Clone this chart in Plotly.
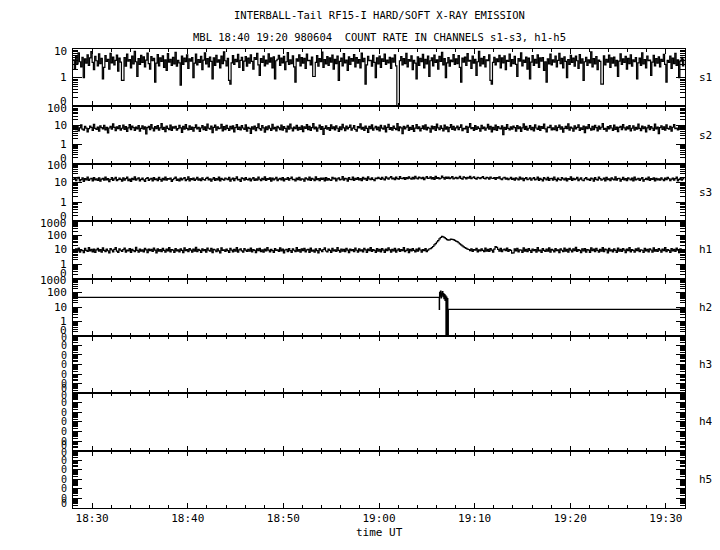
import pandas as pd
import plotly.graph_objects as go
from plotly.subplots import make_subplots

DATE = "1998-06-04"
X_START = "18:28:00"
X_END = "19:32:00"
SAMPLE_SEC = 8

# count rates, one sample every 8 s from 18:28:00
s1 = [4.2,2.1,5.8,3.0,7.4,3.6,2.4,5.1,1.0,4.5,3.2,6.3,2.7,4.9,8.1,3.4,1.9,5.5,3.9,2.6,
      6.8,3.1,4.7,0.9,2.3,5.9,3.7,4.4,2.0,7.0,3.3,5.2,2.8,4.0,6.1,1.7,4.8,3.5,0.8,0.8,
      5.0,2.5,6.6,3.8,4.3,2.2,5.7,3.0,8.3,3.6,1.1,4.6,2.9,6.0,3.4,5.3,2.4,4.1,7.2,3.1,
      2.0,5.4,3.9,4.7,0.7,3.2,6.4,2.6,4.9,3.7,5.8,2.3,4.2,1.8,6.9,3.5,4.4,2.7,5.1,3.0,
      7.7,2.5,4.0,3.3,0.55,5.6,2.9,4.8,3.6,6.2,2.1,4.5,3.8,5.0,1.0,3.2,6.7,2.8,4.3,3.4,
      5.5,1.9,4.1,7.3,3.0,4.6,2.4,5.2,3.7,0.9,4.9,2.7,6.0,3.5,4.2,2.2,5.6,3.1,8.0,3.9,
      2.6,4.7,0.8,0.6,3.3,5.9,2.9,4.4,3.6,6.5,2.3,4.0,5.1,1.8,3.8,5.4,2.5,4.8,3.2,6.2,
      3.7,2.0,5.0,4.3,7.1,2.8,1.2,4.6,3.4,5.7,2.6,4.1,3.0,6.8,3.5,4.9,2.2,5.3,0.9,3.9,
      4.4,6.0,2.7,4.8,3.3,5.5,1.9,3.6,7.5,2.9,4.2,3.1,5.8,2.4,0.7,4.5,3.8,6.3,2.6,5.0,
      3.2,4.7,2.1,6.6,3.9,4.0,2.8,5.2,1.1,1.1,3.4,5.9,2.5,4.6,3.6,7.8,2.3,4.3,3.0,5.4,
      2.7,4.9,3.5,6.1,2.0,4.4,3.1,5.6,0.8,3.7,4.8,2.6,6.9,3.3,4.1,1.8,5.3,2.9,4.6,3.8,
      6.4,2.4,5.0,3.2,4.3,2.2,7.2,3.6,4.7,0.6,2.8,5.5,3.9,4.0,2.5,6.0,3.4,1.0,4.9,3.0,
      5.7,2.3,4.5,3.7,6.7,2.9,4.1,3.3,5.1,2.1,4.8,3.5,6.2,2.6,0.05,0.05,3.9,5.4,2.8,4.6,
      3.1,7.0,2.4,4.3,3.8,5.8,1.9,4.0,3.2,0.9,5.3,2.7,4.7,3.6,6.5,2.2,4.4,3.0,5.6,1.1,
      3.9,4.9,2.6,6.1,3.4,4.2,2.0,5.5,3.7,7.6,2.8,4.6,1.0,3.3,5.0,2.5,4.1,3.6,6.4,2.9,
      4.5,3.1,5.9,2.3,0.7,4.8,3.5,5.2,2.7,6.9,3.8,4.0,2.1,5.7,3.2,4.4,1.2,3.6,8.2,2.6,
      4.7,3.0,5.4,2.4,4.2,3.9,6.3,0.8,0.6,3.4,5.1,2.8,4.5,3.6,6.0,2.2,4.9,3.3,5.8,1.9,
      4.0,3.7,6.7,2.5,4.3,3.1,5.5,2.9,1.1,4.6,3.8,7.3,2.6,4.1,3.4,5.2,2.0,4.8,0.9,3.5,
      5.9,2.7,4.4,3.2,6.2,2.3,4.9,3.8,5.0,1.8,3.6,0.7,4.5,3.0,6.6,2.8,4.2,3.5,5.7,2.4,
      4.0,7.1,3.1,4.7,2.2,5.3,3.7,1.0,4.3,2.9,6.0,3.4,4.8,2.5,5.6,3.9,2.1,6.4,3.2,4.5,
      0.8,3.6,5.1,2.7,4.2,3.3,7.9,2.4,4.6,3.0,5.4,1.9,4.1,3.7,0.6,0.6,5.8,2.8,4.4,3.5,
      6.1,2.3,4.9,3.2,5.2,2.6,4.0,1.1,3.8,6.8,2.9,4.5,3.4,5.5,2.0,4.7,3.1,6.3,2.5,4.2,
      3.6,5.0,0.9,3.3,4.8,2.7,7.4,3.0,4.3,2.2,5.7,3.9,4.1,1.2,3.5,6.0,2.6,4.6,3.2,5.3,
      2.4,4.4,3.7,6.5,2.9,0.7,4.0,3.4,5.6,2.1,4.8,3.1,7.0,2.7,4.2,1.0,3.8,5.1,2.6,4.7]

s2 = [7.1,8.4,6.0,9.7,5.3,7.6,10.8,6.4,5.8,8.9,7.3,4.6,6.9,9.2,8.0,5.6,11.5,7.0,6.2,8.3,
      5.1,9.5,7.7,6.6,10.3,5.9,8.1,4.1,7.4,9.0,6.5,12.1,7.9,5.4,8.6,6.8,9.9,5.7,7.2,10.6,
      6.3,8.8,4.9,7.5,11.2,6.1,9.3,7.8,5.5,8.2,6.7,10.0,5.0,7.1,9.6,6.4,8.5,3.6,7.7,9.1,
      6.0,11.0,7.3,5.2,8.7,6.9,9.8,5.8,7.5,12.4,6.3,8.0,4.8,9.4,7.0,6.1,10.5,5.5,8.4,7.2,
      9.0,5.7,6.8,10.2,7.6,4.4,8.9,6.5,11.3,7.1,5.9,9.6,6.2,8.3,5.1,7.8,10.9,6.6,8.1,4.9,
      7.4,9.9,6.0,8.6,5.6,12.0,7.2,6.4,9.2,4.2,7.9,10.4,5.8,8.5,6.9,7.3,11.6,5.3,8.8,6.1,
      10.1,7.0,5.5,8.9,6.6,9.5,4.7,7.7,11.1,6.2,8.2,5.9,9.8,7.4,6.3,10.7,5.0,8.0,7.1,3.9,
      8.6,6.5,9.3,5.4,7.8,12.2,6.8,5.7,10.0,7.5,4.5,8.4,6.0,9.7,7.2,5.6,11.4,6.7,8.1,5.2,
      9.1,7.6,6.1,10.6,5.8,8.7,7.0,4.6,9.4,6.4,11.8,7.3,5.3,8.3,6.9,10.2,5.7,7.9,6.2,9.6,
      4.8,8.5,7.1,11.0,6.0,9.0,5.5,7.7,12.6,6.6,8.2,5.1,7.4,10.4,6.3,8.8,3.4,7.0,9.5,6.5,
      7.8,5.6,10.9,6.8,8.4,5.9,9.7,7.2,4.9,8.6,6.1,11.5,7.5,5.4,9.2,6.7,8.0,10.6,5.8,7.3,
      9.8,6.2,5.0,8.7,7.6,12.3,6.4,8.1,5.5,9.4,7.0,4.3,8.9,6.9,10.8,5.7,7.4,9.1,6.0,8.3,
      5.2,10.1,7.3,6.5,9.6,4.7,8.0,11.4,6.3,7.7,5.8,9.3,7.1,6.0,12.5,5.4,8.6,7.5,3.8,9.0,
      6.6,8.2,10.3,5.6,7.9,6.2,9.9,4.9,7.3,11.2,6.8,8.5,5.3,7.0,9.5,6.4,10.7,5.9,8.1,7.2,
      4.5,9.2,6.7,8.8,5.5,12.0,7.6,6.1,9.7,7.0,5.2,10.5,6.5,8.4,4.8,7.8,11.1,6.3,8.9,5.7,
      7.5,9.4,6.0,8.0,10.9,5.4,7.2,6.6,9.1,4.4,8.3,12.7,6.8,7.7,5.6,9.8,6.2,8.6,7.1,5.1,
      10.2,6.9,8.2,5.8,7.4,11.6,6.4,9.0,4.6,7.9,6.1,10.4,5.5,8.7,7.3,6.7,9.6,3.3,8.0,6.3,
      11.3,7.0,5.9,8.5,6.5,9.3,7.7,5.0,10.0,6.8,8.4,4.9,7.6,12.1,6.2,8.9,5.7,7.2,9.9,6.0,
      8.1,5.3,10.7,7.4,6.3,9.2,5.6,8.8,7.0,11.7,6.6,4.7,8.3,7.8,10.3,5.9,7.5,6.1,9.5,5.4,
      7.9,10.6,6.4,8.6,4.5,7.1,9.0,6.9,12.2,5.8,8.2,7.3,5.1,9.7,6.7,8.0,10.8,5.5,7.6,6.2,
      9.3,4.2,8.4,6.8,11.0,7.2,5.7,8.9,6.0,10.1,7.7,5.3,9.4,6.5,8.1,12.4,6.3,7.0,5.0,8.7,
      6.6,9.8,7.4,5.6,10.5,6.2,8.3,4.8,7.9,9.1,6.0,11.3,7.5,5.9,8.6,6.7,10.0,5.2,7.2,9.5,
      5.8,8.0,6.4,11.8,7.1,5.4,9.2,6.9,8.5,4.6,7.6,10.3,6.1,8.8,7.3,5.5,12.0,6.6,8.2,3.7,
      7.8,9.7,6.3,8.4,5.7,10.9,7.0,6.5,9.0,5.1,8.1,11.1,6.8,7.4,5.9,9.6,6.2,8.7,7.5,10.2]

s3 = [15.3,17.9,13.0,16.4,19.6,12.5,14.8,18.2,11.9,16.7,14.1,20.3,13.6,15.9,17.4,12.8,19.0,14.5,16.1,13.3,
      18.5,12.2,15.6,17.1,13.9,20.0,14.3,16.8,11.6,15.0,18.8,13.5,16.2,19.3,12.9,14.7,17.6,15.2,12.4,18.1,
      14.0,16.5,19.8,13.1,15.7,12.0,17.3,14.9,20.6,13.7,16.0,18.4,12.6,15.4,17.8,14.2,11.8,16.9,19.1,13.4,
      15.8,17.0,12.7,18.9,14.6,16.3,13.2,19.5,15.1,12.3,17.5,14.4,20.2,13.8,16.6,15.5,18.0,12.1,14.8,17.2,
      19.9,13.6,15.9,12.8,17.7,14.1,16.4,18.6,13.0,15.3,20.4,12.5,16.8,14.7,17.9,13.3,15.6,19.2,14.0,16.1,
      12.9,18.3,15.0,13.7,17.1,19.7,14.4,16.0,12.2,15.8,18.7,13.5,16.9,14.2,20.1,12.6,17.4,15.2,13.9,18.0,
      16.3,14.6,19.4,12.4,15.7,17.6,13.1,16.5,20.5,14.3,15.4,12.0,18.2,16.7,13.8,19.0,15.1,14.5,17.3,12.7,
      15.9,18.6,13.4,16.2,14.0,19.8,15.5,12.9,17.0,14.8,20.8,13.6,16.6,15.3,18.1,12.3,17.8,14.1,16.0,19.3,
      13.2,15.7,17.5,14.4,19.1,12.8,16.4,15.0,18.8,13.7,16.9,20.2,14.6,15.4,12.5,17.7,14.9,19.5,13.9,16.3,
      15.6,12.2,18.4,16.1,14.3,19.9,13.5,17.2,15.8,12.9,20.6,14.7,16.7,13.1,18.0,15.2,17.6,12.6,19.0,14.0,
      16.8,14.5,13.3,19.6,15.9,17.9,12.7,16.2,18.5,14.2,15.5,21.0,13.8,17.3,16.0,12.4,18.9,15.1,14.8,20.0,
      13.6,17.0,15.4,18.7,14.1,16.5,12.9,19.2,15.7,17.5,13.4,20.4,16.3,14.6,18.2,15.0,13.0,17.8,16.6,19.4,
      17.1,15.3,19.7,16.2,14.4,20.6,17.6,15.8,18.5,21.3,16.0,17.9,14.9,19.9,16.8,15.5,21.6,17.3,16.4,19.0,
      15.2,18.8,16.7,20.9,17.4,15.6,19.3,16.1,22.0,17.8,15.9,20.2,18.3,16.5,19.6,14.8,18.0,21.5,16.9,17.7,
      20.4,16.3,18.6,15.4,21.8,17.1,19.1,16.0,17.5,22.4,18.7,15.7,20.0,17.0,19.8,16.6,18.4,21.1,15.9,17.9,
      19.5,16.8,18.2,21.7,17.3,15.5,20.5,18.9,16.2,19.2,17.7,22.1,16.4,18.5,20.8,17.2,15.8,19.6,18.1,16.7,
      18.6,21.0,17.0,16.1,19.7,18.3,15.6,20.3,17.5,16.9,19.0,15.3,18.8,17.4,20.6,16.2,14.9,18.0,19.4,15.7,
      17.6,14.6,16.4,19.2,15.0,17.3,13.7,18.5,16.1,14.4,20.1,15.5,17.8,13.2,16.8,19.0,14.7,15.9,18.2,13.9,
      16.4,18.9,14.2,15.6,20.0,13.5,17.2,15.1,12.8,18.6,16.0,14.5,19.4,13.3,16.7,17.5,14.0,20.3,15.3,12.6,
      17.8,15.0,13.8,19.1,16.2,14.3,18.0,12.5,16.9,15.4,20.5,13.6,17.4,14.8,16.1,19.6,13.1,15.7,18.3,14.1,
      12.9,16.6,19.0,14.6,15.8,13.4,17.7,16.3,12.2,18.7,15.1,14.0,20.2,16.8,13.7,15.5,17.9,12.7,19.3,14.9,
      16.0,13.2,18.1,15.6,14.2,20.7,13.9,16.5,17.3,12.4,15.2,19.5,14.5,16.9,13.0,18.4,15.9,14.1,17.6,12.8,
      19.8,14.4,15.7,17.0,13.6,16.2,18.8,12.3,15.0,17.4,14.7,20.0,13.3,16.6,15.3,18.5,12.6,17.1,14.3,16.0,
      13.8,18.2,15.5,12.9,17.7,14.6,19.6,16.4,13.1,15.8,18.0,14.0,16.7,20.1,12.5,15.2,17.3,13.9,16.3,18.6]

h1 = [9.6,7.4,11.8,8.3,13.2,6.9,10.1,8.8,6.4,12.5,9.2,7.8,14.0,8.5,10.7,7.1,11.3,6.6,9.9,12.8,
      8.1,10.4,6.8,13.6,9.0,7.5,11.1,8.6,6.2,12.0,9.7,7.2,10.8,14.4,8.0,6.7,11.6,9.3,7.9,10.2,
      13.0,7.0,9.5,8.4,12.3,6.5,10.6,8.9,7.6,14.6,9.1,6.9,11.4,8.2,10.0,7.3,12.7,9.8,6.3,11.0,
      8.7,10.9,7.7,13.4,9.4,6.1,11.9,8.0,10.3,7.4,12.9,9.0,6.8,11.2,8.5,14.1,7.2,10.5,9.6,6.6,
      12.2,8.3,10.0,7.1,11.7,9.2,6.4,13.8,8.8,10.4,7.6,12.4,9.5,6.9,11.0,8.1,14.8,7.4,10.7,9.0,
      6.7,11.5,8.6,10.2,7.0,13.1,9.3,8.0,12.6,6.3,10.8,9.7,7.5,11.9,8.4,6.0,13.5,9.1,10.1,7.8,
      11.3,8.9,6.5,12.8,9.6,7.3,10.6,8.2,14.3,7.0,9.9,11.6,8.5,6.8,12.1,9.4,7.7,10.9,8.1,13.3,
      7.2,10.4,9.0,6.4,11.8,8.7,12.9,7.5,9.8,6.9,11.1,8.3,14.2,9.5,7.1,10.6,8.8,6.6,12.4,9.2,
      10.0,7.8,13.7,8.4,11.4,6.2,9.7,10.8,7.4,12.2,8.9,6.7,11.5,9.3,7.6,14.5,8.0,10.3,6.8,11.9,
      8.6,12.6,7.3,9.9,10.9,6.5,13.2,8.2,9.4,7.0,11.7,8.8,6.1,12.0,9.6,7.5,10.5,13.9,8.3,7.1,
      11.2,9.1,6.6,12.7,8.5,10.1,7.7,14.0,9.0,6.9,11.4,8.1,10.7,7.4,12.9,9.5,6.3,11.0,8.7,10.2,
      7.6,13.4,9.3,6.8,11.6,8.4,10.0,7.2,12.5,9.8,6.5,11.1,8.9,14.3,7.9,10.4,9.1,6.7,12.2,8.0,
      10.8,7.3,12.0,9.4,6.6,11.3,8.6,13.6,9.9,7.0,10.6,8.3,12.8,6.9,9.6,11.5,7.7,10.2,8.8,14.1,
      7.5,9.2,11.7,6.4,10.9,8.5,12.4,9.0,7.1,11.0,8.0,13.0,9.7,6.8,10.3,8.7,12.1,7.4,9.5,11.4,
      12.0,14.0,17.0,22.0,27.0,35.0,44.0,58.0,72.0,88.0,80.0,70.0,60.0,52.0,47.0,50.0,55.0,53.0,51.0,46.0,
      41.0,37.0,31.0,26.0,22.0,19.0,16.0,14.0,12.5,11.0,10.5,8.6,11.9,7.8,10.4,9.3,12.7,7.2,10.0,8.4,
      11.8,9.0,7.5,13.0,8.2,10.6,7.9,12.3,9.6,6.9,11.2,17.0,15.0,10.8,8.1,12.5,7.4,9.9,11.0,8.7,
      13.2,7.7,10.4,9.1,5.8,6.2,11.6,8.5,12.8,7.3,10.1,9.4,6.7,13.5,8.0,10.9,7.6,12.0,9.2,6.5,
      11.4,8.8,10.3,7.0,14.2,8.4,9.7,6.6,12.4,9.0,7.8,11.1,8.2,13.7,6.9,10.6,9.5,7.2,12.1,8.6,
      10.0,6.4,11.8,9.3,7.5,13.3,8.1,10.7,6.8,12.6,9.6,7.1,11.5,8.7,14.6,7.7,10.2,9.0,6.3,11.9,
      8.3,12.2,7.0,10.5,9.4,6.6,13.9,8.9,11.0,7.4,12.7,9.1,6.9,10.8,8.0,14.0,7.6,11.3,9.8,6.2,
      12.5,8.5,10.1,7.3,11.7,9.2,6.7,13.1,8.2,10.9,7.9,12.3,9.5,6.4,11.2,8.6,14.4,7.1,10.4,9.0,
      6.8,11.6,8.8,13.4,7.5,10.0,9.3,6.5,12.8,8.4,10.7,7.2,11.9,9.7,6.9,13.6,8.1,10.3,7.8,12.1,
      9.4,7.0,11.1,8.6,14.0,7.4,10.5,9.1,6.6,12.4,8.3,10.9,7.7,13.2,9.6,6.3,11.5,8.9,10.2,7.9]

h2_time = ["18:28:00","19:06:16","19:06:18","19:06:20","19:06:23","19:06:26","19:06:29",
           "19:06:32","19:06:35","19:06:38","19:06:41","19:06:44","19:06:47","19:06:50",
           "19:06:54","19:06:57","19:07:00","19:07:03","19:07:06","19:07:09","19:07:12",
           "19:07:15","19:32:00"]
h2_vals = [49,49,7.1,110,60,134,45,95,70,120,55,88,40,75,30,62,0.01,50,0.01,40,0.01,7.1,7.1]

channels = ["s1", "s2", "s3", "h1", "h2", "h3", "h4", "h5"]
decade_ranges = [(-1, 1), (-1, 2), (-1, 2), (-1, 3), (-1, 3), (-7, -1), (-7, -1), (-7, -1)]

x_ticks = ["18:30", "18:40", "18:50", "19:00", "19:10", "19:20", "19:30"]

title1 = "INTERBALL-Tail RF15-I HARD/SOFT X-RAY EMISSION"
title2 = "MBL 18:40 19:20 980604  COUNT RATE IN CHANNELS s1-s3, h1-h5"
x_title = "time UT"

FONT = "DejaVu Sans Mono, Liberation Mono, monospace"


def times(n):
    return pd.date_range(f"{DATE} {X_START}", periods=n, freq=f"{SAMPLE_SEC}s")


series = {
    "s1": (times(len(s1)), s1),
    "s2": (times(len(s2)), s2),
    "s3": (times(len(s3)), s3),
    "h1": (times(len(h1)), h1),
    "h2": (pd.to_datetime([f"{DATE} {t}" for t in h2_time]), h2_vals),
}

fig = make_subplots(rows=len(channels), cols=1, shared_xaxes=True, vertical_spacing=0)

for i, ch in enumerate(channels):
    row = i + 1
    sfx = "" if row == 1 else str(row)
    if ch in series:
        tx, vy = series[ch]
        fig.add_trace(go.Scatter(x=tx, y=vy, mode="lines",
                                 line=dict(color="black", width=1.2, shape="hv"),
                                 showlegend=False, hoverinfo="skip"), row=row, col=1)
    else:
        fig.add_trace(go.Scatter(x=[], y=[], mode="lines", showlegend=False), row=row, col=1)
    lo, hi = decade_ranges[i]
    tv = [10.0 ** d for d in range(lo, hi + 1)]
    minor_vals = [m * 10.0 ** d for d in range(lo, hi) for m in range(2, 10)]
    fig.update_yaxes(type="log", range=[lo, hi], tickmode="array", tickvals=tv,
                     showticklabels=False,
                     ticks="inside", ticklen=9, tickwidth=1, tickcolor="black",
                     minor=dict(tickmode="array", tickvals=minor_vals, ticks="inside", ticklen=5,
                                tickwidth=1, tickcolor="black", showgrid=False),
                     showline=True, linecolor="black", linewidth=1, mirror="ticks",
                     showgrid=False, zeroline=False,
                     row=row, col=1)
    fig.update_xaxes(type="date", range=[f"{DATE} {X_START}", f"{DATE} {X_END}"],
                     tickmode="array", tickvals=[f"{DATE} {t}:00" for t in x_ticks], ticktext=x_ticks,
                     ticks="inside", ticklen=5, tickwidth=1, tickcolor="black",
                     minor=dict(dtick=120000, tick0=f"{DATE} 18:28:00", ticks="inside", ticklen=3,
                                tickwidth=1, tickcolor="black", showgrid=False),
                     showline=True, linecolor="black", linewidth=1, mirror="ticks",
                     showgrid=False, zeroline=False,
                     tickfont=dict(family=FONT, size=11, color="black"),
                     row=row, col=1)
    # y tick labels, placed on the axis' own (log) coordinates
    lab_size = 11 if hi - lo <= 4 else 10
    for d in range(lo, hi + 1):
        label = "0" if d < 0 else str(int(10 ** d))
        shift = -2 if d == hi else (5 if d == lo else 0)
        fig.add_annotation(text=label, x=0, xref=f"x{sfx} domain", y=d, yref=f"y{sfx}",
                           xanchor="right", yanchor="middle", xshift=-4, yshift=shift,
                           showarrow=False, font=dict(family=FONT, size=lab_size, color="black"))
    # channel label on the right
    fig.add_annotation(text=ch, x=1, y=0.5, xref=f"x{sfx} domain", yref=f"y{sfx} domain",
                       xanchor="left", yanchor="middle", xshift=12, showarrow=False,
                       font=dict(family=FONT, size=11, color="black"))

fig.add_annotation(text=title1, x=0.5, y=1, xref="paper", yref="paper", yanchor="middle",
                   yshift=34, showarrow=False, font=dict(family=FONT, size=10.5, color="black"))
fig.add_annotation(text=title2, x=0.5, y=1, xref="paper", yref="paper", yanchor="middle",
                   yshift=12, showarrow=False, font=dict(family=FONT, size=10.5, color="black"))
fig.add_annotation(text=x_title, x=0.5, y=0, xref="paper", yref="paper", yanchor="middle",
                   yshift=-24, showarrow=False, font=dict(family=FONT, size=11, color="black"))

# the page body adds an 8 px margin, so the figure is 8 px smaller than the window
fig.update_layout(width=712, height=542, margin=dict(l=65, r=35, t=41, b=42),
                  paper_bgcolor="white", plot_bgcolor="white", showlegend=False)

fig.write_html("out.html")
